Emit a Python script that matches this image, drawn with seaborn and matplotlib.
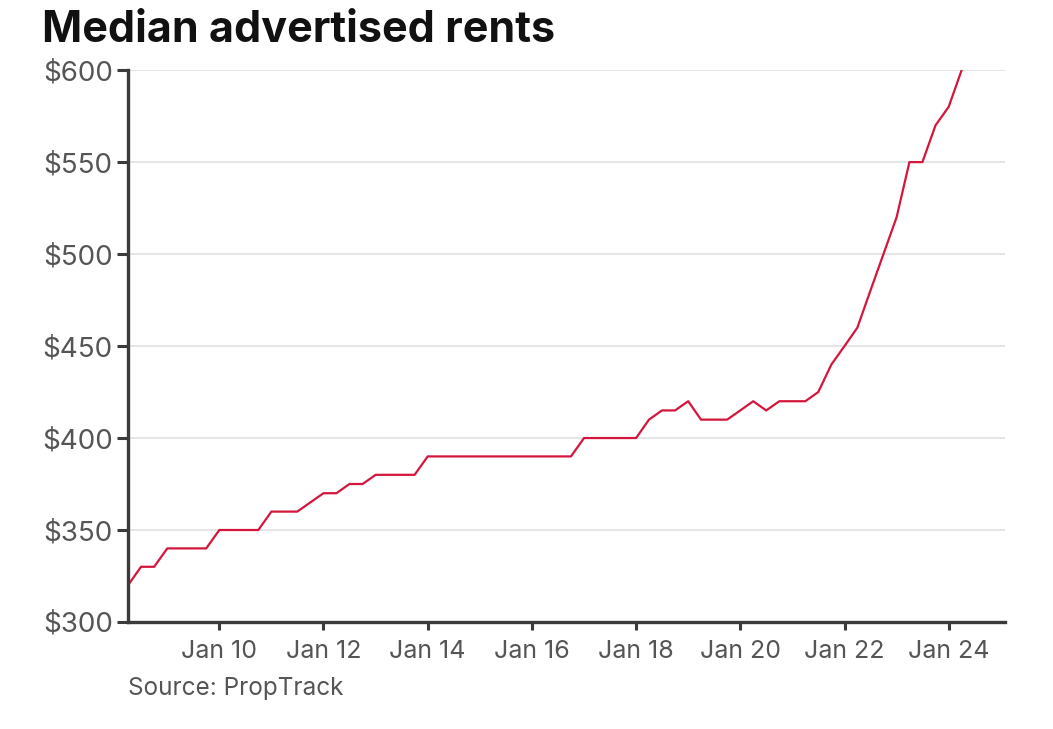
import pandas as pd
import seaborn as sns
import matplotlib
matplotlib.use("Agg")
import matplotlib.pyplot as plt
from matplotlib.ticker import FuncFormatter

# квартальные данные, апр 2008 - апр 2024
quarters = pd.date_range("2008-04-01", "2024-04-01", freq="QS-JAN")
rents = [320, 330, 330, 340, 340, 340, 340,
         350, 350, 350, 350, 360, 360, 360, 365,
         370, 370, 375, 375, 380, 380, 380, 380,
         390, 390, 390, 390, 390, 390, 390, 390, 390, 390, 390, 390,
         400, 400, 400, 400, 400, 410, 415, 415,
         420, 410, 410, 410, 415, 420, 415, 420,
         420, 420, 425, 440, 450, 460, 480, 500,
         520, 550, 550, 570, 580, 600]
tick_years = [2010, 2012, 2014, 2016, 2018, 2020, 2022, 2024]
y_ticks = [300, 350, 400, 450, 500, 550, 600]

data = pd.DataFrame({"date": quarters, "rent": rents})

sns.set_style("white")
plt.rcParams['font.family'] = ['Inter', 'DejaVu Sans']

fig = plt.figure(figsize=(10.53, 7.29), dpi=100)
ax = fig.add_axes([0.1216, 0.1468, 0.8324, 0.757])

sns.lineplot(data=data, x="date", y="rent", color="#d4163c", linewidth=1.6, ax=ax)

ax.set_ylim(300, 600)
ax.set_xlim(pd.Timestamp("2008-04-01"), pd.Timestamp("2025-01-27"))
ax.set_yticks(y_ticks)
ax.yaxis.set_major_formatter(FuncFormatter(lambda v, p: f"${v:.0f}"))
ticks = [pd.Timestamp(f"{y}-01-01") for y in tick_years]
ax.set_xticks(ticks)
ax.set_xticklabels([f"Jan {str(y)[2:]}" for y in tick_years])

ax.grid(axis="y", color="#e3e3e3", linewidth=1.3)
ax.set_axisbelow(True)
for s in ["top", "right"]:
    ax.spines[s].set_visible(False)
for s in ["left", "bottom"]:
    ax.spines[s].set_color("#3b3b3b")
    ax.spines[s].set_linewidth(2.4)
ax.tick_params(axis="y", length=8, width=2.2, color="#3b3b3b", labelsize=20,
               labelcolor="#555555", pad=3, left=True)
ax.tick_params(axis="x", length=6, width=2.2, color="#3b3b3b", labelsize=18,
               labelcolor="#555555", pad=7, bottom=True)
ax.set_xlabel("")
ax.set_ylabel("")

fig.text(0.040, 0.942, "Median advertised rents", fontsize=31, fontweight="bold",
         color="#111111")
fig.text(0.1216, 0.047, "Source: PropTrack", fontsize=17.5, color="#555555")

fig.savefig("out.png", dpi=100)
